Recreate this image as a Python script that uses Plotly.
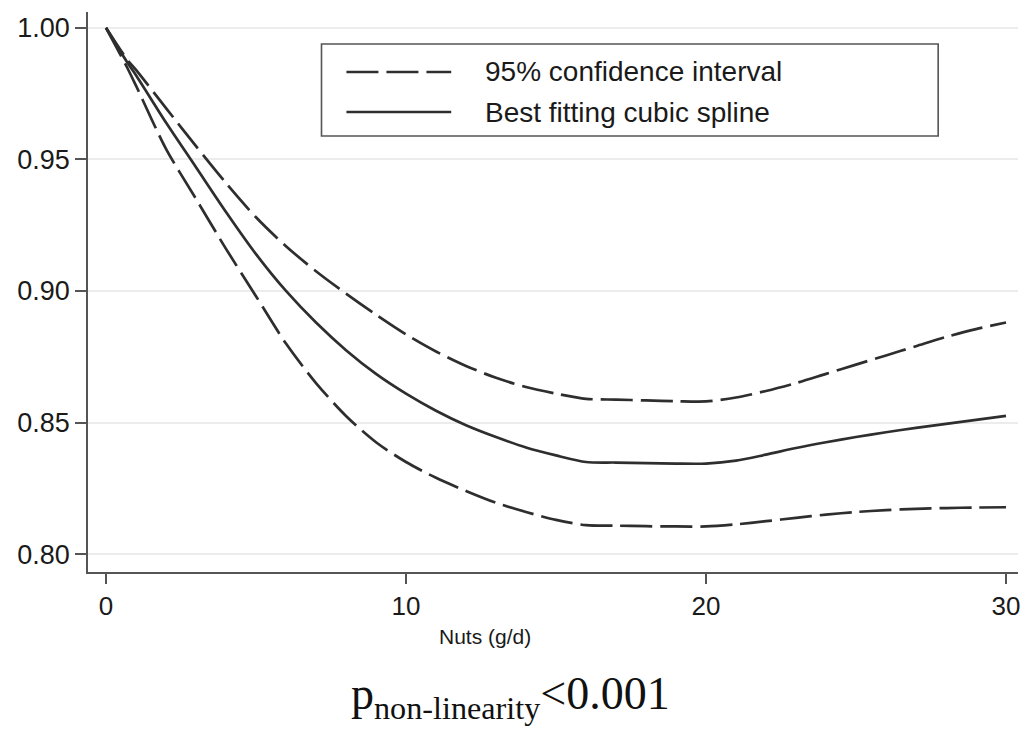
import plotly.graph_objects as go

# ---- data ----
nuts = [0, 0.7, 1, 2, 3, 4, 5, 6, 7, 8, 9, 10, 11, 12, 13, 14, 15, 16, 17, 18, 19, 20,
        21, 22, 23, 24, 25, 26, 27, 28, 29, 30]
spline_fit = [1.000, 0.987, 0.982, 0.964, 0.947, 0.930, 0.914, 0.900, 0.888, 0.8775, 0.8685, 0.861,
              0.8545, 0.849, 0.8445, 0.8405, 0.8375, 0.835, 0.8348, 0.8346, 0.8344, 0.8344,
              0.8355, 0.8378, 0.8403, 0.8425, 0.8445, 0.8463, 0.848, 0.8495, 0.851, 0.8525]
ci_upper = [1.000, 0.988, 0.984, 0.9695, 0.955, 0.941, 0.928, 0.917, 0.9075, 0.899, 0.891, 0.8835,
            0.877, 0.8715, 0.867, 0.8635, 0.861, 0.859, 0.8587, 0.8584, 0.8581, 0.858,
            0.8595, 0.862, 0.865, 0.8685, 0.872, 0.8755, 0.879, 0.8825, 0.8855, 0.888]
ci_lower = [1.000, 0.985, 0.978, 0.954, 0.935, 0.916, 0.898, 0.880, 0.865, 0.8525, 0.8425, 0.835,
            0.829, 0.824, 0.8195, 0.816, 0.813, 0.811, 0.8108, 0.8106, 0.8105, 0.8105,
            0.8113, 0.8125, 0.8138, 0.815, 0.816, 0.8167, 0.8172, 0.8175, 0.8177, 0.8178]
x_ticks = [0, 10, 20, 30]
y_ticks = [0.80, 0.85, 0.90, 0.95, 1.00]
y_tick_labels = ["0.80", "0.85", "0.90", "0.95", "1.00"]
legend_labels = ["95% confidence interval", "Best fitting cubic spline"]

LINE = "#2e2e2e"
DASH = "32px,8px"
W, H = 1030, 743
ML, MR, MT, MB = 88, 10, 12, 171
PW, PH = W - ML - MR, H - MT - MB


def px(xp):
    return (xp - ML) / PW


def py(yp):
    return (H - MB - yp) / PH


fig = go.Figure()
for vals, dash in ((ci_upper, DASH), (ci_lower, DASH), (spline_fit, "solid")):
    fig.add_trace(go.Scatter(x=nuts, y=vals, mode="lines",
                             line=dict(color=LINE, width=2.7, dash=dash, shape="spline", smoothing=0.8),
                             showlegend=False, hoverinfo="x+y"))

shapes = [
    # legend frame
    dict(type="rect", xref="paper", yref="paper", x0=px(322), x1=px(940), y0=py(136), y1=py(44),
         line=dict(color="#555555", width=1.6), fillcolor="white", layer="below"),
    dict(type="line", xref="paper", yref="paper", x0=px(347), x1=px(452), y0=py(72), y1=py(72),
         line=dict(color=LINE, width=2.7, dash=DASH)),
    dict(type="line", xref="paper", yref="paper", x0=px(347), x1=px(452), y0=py(112), y1=py(112),
         line=dict(color=LINE, width=2.7)),
]

SANS = "Liberation Sans, Arial"
annotations = [
    dict(xref="paper", yref="paper", x=px(484), y=py(72), text=legend_labels[0], showarrow=False,
         xanchor="left", yanchor="middle", font=dict(family=SANS, size=28, color="#1a1a1a")),
    dict(xref="paper", yref="paper", x=px(484), y=py(112), text=legend_labels[1], showarrow=False,
         xanchor="left", yanchor="middle", font=dict(family=SANS, size=28, color="#1a1a1a")),
    dict(xref="paper", yref="paper", x=px(486), y=py(636), text="Nuts (g/d)", showarrow=False,
         xanchor="center", yanchor="middle", font=dict(family=SANS, size=21, color="#1a1a1a")),
    dict(xref="paper", yref="paper", x=px(511), y=py(697),
         text="p<sub>non-linearity</sub>&lt;0.001", showarrow=False,
         xanchor="center", yanchor="middle", font=dict(family="Liberation Serif, Times New Roman", size=46, color="#111")),
]

fig.update_layout(
    width=W, height=H,
    margin=dict(l=ML, r=MR, t=MT, b=MB),
    paper_bgcolor="white", plot_bgcolor="white",
    shapes=shapes, annotations=annotations,
    font=dict(family=SANS, color="#1a1a1a"),
)
fig.update_xaxes(range=[-0.6, 30.4], tickvals=x_ticks, ticks="outside", ticklen=10, tickwidth=1.6,
                 tickcolor="#555", showline=True, linecolor="#555", linewidth=1.6, showgrid=False,
                 zeroline=False, tickfont=dict(size=26, color="#1a1a1a"))
fig.update_yaxes(range=[0.7932, 1.006], tickvals=y_ticks, ticktext=y_tick_labels, ticks="outside",
                 ticklen=11, tickwidth=1.6, tickcolor="#555", showline=True, linecolor="#555",
                 linewidth=1.6, showgrid=True, gridcolor="#ececec", gridwidth=1.5, zeroline=False,
                 tickfont=dict(size=27, color="#1a1a1a"))

fig.write_html("out.html")
